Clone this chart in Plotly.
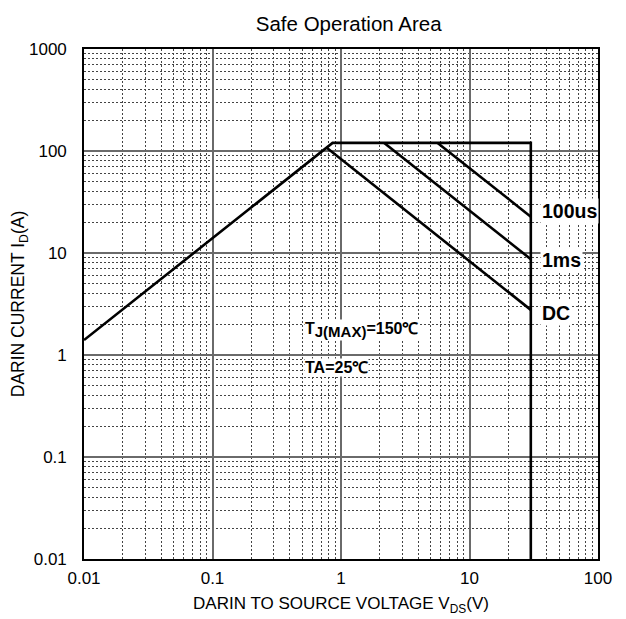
import plotly.graph_objects as go

# Safe operating area boundary: Rds(on) limit, current limit, Vds limit
boundary_v = [0.01, 0.86, 30, 30]
boundary_i = [1.4, 120, 120, 0.01]

# Power-limited lines for each pulse width
dc_v = [0.77, 30]
dc_i = [108, 2.77]
ms1_v = [2.17, 30]
ms1_i = [120, 8.7]
us100_v = [5.65, 30]
us100_i = [120, 22.7]

x_ticks = [0.01, 0.1, 1, 10, 100]
x_labels = ["0.01", "0.1", "1", "10", "100"]
y_ticks = [0.01, 0.1, 1, 10, 100, 1000]
y_labels = ["0.01", "0.1", "1", "10", "100", "1000"]

FONT = "Liberation Sans, Arial, sans-serif"

def minor_vals(decades):
    return [d * k for d in decades for k in range(2, 10)]

fig = go.Figure()
line = dict(color="black", width=2.6)
for vx, iy in [(boundary_v, boundary_i), (dc_v, dc_i), (ms1_v, ms1_i), (us100_v, us100_i)]:
    fig.add_trace(go.Scatter(x=vx, y=iy, mode="lines", line=line,
                             hoverinfo="skip", showlegend=False))

axis_common = dict(
    type="log", automargin=False,
    showline=True, linecolor="black", linewidth=1.6, mirror=True,
    showgrid=True, gridcolor="#6a6a6a", gridwidth=1.5,
    ticks="", zeroline=False,
    tickfont=dict(family=FONT, size=17, color="black"),
)
minor_style = dict(showgrid=True, gridcolor="#444444", gridwidth=1,
                   griddash="2px,2px", ticks="")

fig.update_xaxes(
    **axis_common,
    range=[-2, 2],
    tickvals=x_ticks, ticktext=x_labels,
    ticklabelstandoff=3,
    minor=dict(tickvals=minor_vals([0.01, 0.1, 1, 10]), **minor_style),
    title=dict(text="DARIN TO SOURCE VOLTAGE V<sub>DS</sub>(V)",
               font=dict(family=FONT, size=17, color="black"), standoff=10),
)
fig.update_yaxes(
    **axis_common,
    range=[-2, 3],
    tickvals=y_ticks, ticktext=y_labels,
    ticklabelstandoff=12,
    minor=dict(tickvals=minor_vals([0.01, 0.1, 1, 10, 100]), **minor_style),
    title=dict(text="DARIN CURRENT I<sub>D</sub>(A)",
               font=dict(family=FONT, size=17.5, color="black"), standoff=0),
)

bold = dict(family=FONT, size=19.5, color="black")
for text, xv, yv in [("<b>100us</b>", 1.545, 1.412),
                     ("<b>1ms</b>", 1.545, 0.931),
                     ("<b>DC</b>", 1.545, 0.412)]:
    fig.add_annotation(x=xv, y=yv, xref="x", yref="y", text=text, showarrow=False,
                       xanchor="left", yanchor="middle", font=bold,
                       bgcolor="white", borderpad=1)

small_bold = dict(family=FONT, size=16, color="black")
fig.add_annotation(x=-0.285, y=0.25, xref="x", yref="y",
                   text="<b>T<sub><span style='font-size:15px'>J(MAX)</span></sub>=150℃</b>",
                   showarrow=False,
                   xanchor="left", yanchor="middle", font=small_bold,
                   bgcolor="white", borderpad=0)
fig.add_annotation(x=-0.29, y=-0.118, xref="x", yref="y",
                   text="<b>TA=25℃</b>", showarrow=False,
                   xanchor="left", yanchor="middle", font=small_bold,
                   bgcolor="white", borderpad=0)

fig.update_layout(
    width=626, height=619,
    margin=dict(l=84, r=28, t=49, b=60),
    paper_bgcolor="white", plot_bgcolor="white",
    title=dict(text="Safe Operation Area", x=0.557, xanchor="center",
               y=0.962, yanchor="middle",
               font=dict(family=FONT, size=20.5, color="black")),
)

fig.write_html("out.html")
